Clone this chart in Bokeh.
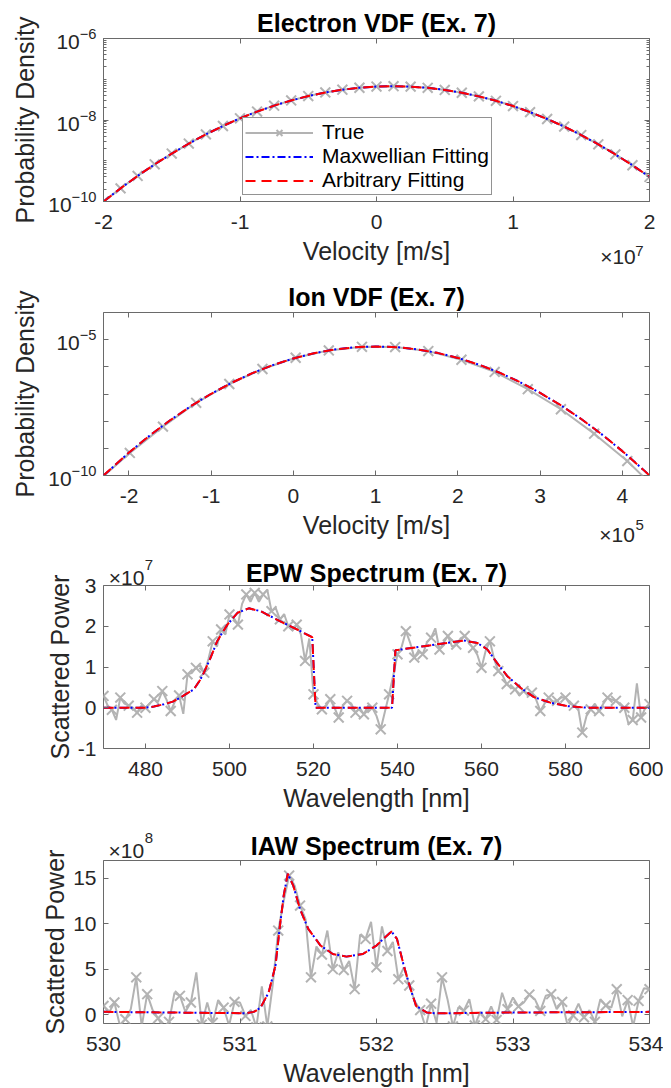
from bokeh.plotting import figure
from bokeh.models import (Range1d, LinearAxis, LogAxis, FixedTicker, Legend,
                          LegendItem, CustomJSTickFormatter)
from bokeh.layouts import column
from bokeh.embed import file_html
from bokeh.resources import INLINE

FONT = "Liberation Sans"
TXT = "#262626"
AX = "#6a6a6a"
GREY = "#b3b3b3"
BLUE = "#0000ff"
RED = "#ff0000"

# ---------------- data ----------------
# Electron VDF (velocity in units of 1e7 m/s)
e_v = [-2.0, -1.875, -1.75, -1.625, -1.5, -1.375, -1.25, -1.125, -1.0, -0.875, -0.75,
       -0.625, -0.5, -0.375, -0.25, -0.125, 0.0, 0.125, 0.25, 0.375, 0.5, 0.625, 0.75,
       0.875, 1.0, 1.125, 1.25, 1.375, 1.5, 1.625, 1.75, 1.875, 2.0]
e_true = [9.97e-11, 2.10e-10, 4.24e-10, 8.16e-10, 1.50e-9, 2.64e-9, 4.44e-9, 7.13e-9,
          1.10e-8, 1.61e-8, 2.25e-8, 3.02e-8, 3.87e-8, 4.74e-8, 5.54e-8, 6.19e-8,
          6.62e-8, 6.76e-8, 6.59e-8, 6.15e-8, 5.48e-8, 4.67e-8, 3.80e-8, 2.96e-8,
          2.20e-8, 1.56e-8, 1.06e-8, 6.89e-9, 4.27e-9, 2.53e-9, 1.43e-9, 7.76e-10, 4.01e-10]
e_maxw = [9.97e-11, 2.10e-10, 4.24e-10, 8.16e-10, 1.50e-9, 2.64e-9, 4.44e-9, 7.13e-9,
          1.10e-8, 1.61e-8, 2.25e-8, 3.02e-8, 3.87e-8, 4.74e-8, 5.54e-8, 6.19e-8,
          6.62e-8, 6.76e-8, 6.59e-8, 6.15e-8, 5.48e-8, 4.67e-8, 3.80e-8, 2.96e-8,
          2.20e-8, 1.56e-8, 1.06e-8, 6.89e-9, 4.27e-9, 2.53e-9, 1.43e-9, 7.76e-10, 4.01e-10]
e_arb = [9.97e-11, 2.10e-10, 4.24e-10, 8.16e-10, 1.50e-9, 2.64e-9, 4.44e-9, 7.13e-9,
         1.10e-8, 1.61e-8, 2.25e-8, 3.02e-8, 3.87e-8, 4.74e-8, 5.54e-8, 6.19e-8,
         6.62e-8, 6.76e-8, 6.59e-8, 6.15e-8, 5.48e-8, 4.67e-8, 3.80e-8, 2.96e-8,
         2.20e-8, 1.56e-8, 1.06e-8, 6.89e-9, 4.27e-9, 2.53e-9, 1.43e-9, 7.76e-10, 4.01e-10]

# Ion VDF (velocity in units of 1e5 m/s)
i_v_true = [-2.393, -1.99, -1.587, -1.183, -0.78, -0.377, 0.027, 0.43, 0.833, 1.237,
            1.64, 2.043, 2.447, 2.85, 3.253, 3.657, 4.06, 4.463]
i_true = [5.7e-11, 6.8e-10, 6.3e-9, 4.75e-8, 2.34e-7, 8.3e-7, 2.16e-6, 4.03e-6, 5.45e-6,
          5.35e-6, 3.79e-6, 1.82e-6, 6.5e-7, 1.51e-7, 2.75e-8, 3.47e-9, 3.4e-10, 2.2e-11]
i_v_fit = [-2.31, -2.0, -1.75, -1.5, -1.25, -1.0, -0.75, -0.5, -0.25, 0.0, 0.25, 0.5,
           0.75, 1.0, 1.25, 1.5, 1.75, 2.0, 2.25, 2.5, 2.75, 3.0, 3.25, 3.5, 3.75, 4.0,
           4.25, 4.33]
i_maxw = [1.0e-10, 7.0e-10, 2.93e-9, 1.08e-8, 3.54e-8, 1.02e-7, 2.60e-7, 5.85e-7,
          1.16e-6, 2.04e-6, 3.17e-6, 4.35e-6, 5.26e-6, 5.62e-6, 5.31e-6, 4.43e-6,
          3.27e-6, 2.13e-6, 1.22e-6, 6.21e-7, 2.79e-7, 1.10e-7, 3.86e-8, 1.20e-8,
          3.27e-9, 7.89e-10, 1.68e-10, 1.0e-10]
i_arb = [1.0e-10, 7.0e-10, 2.93e-9, 1.08e-8, 3.54e-8, 1.02e-7, 2.60e-7, 5.85e-7,
         1.16e-6, 2.04e-6, 3.17e-6, 4.35e-6, 5.26e-6, 5.62e-6, 5.31e-6, 4.43e-6,
         3.27e-6, 2.13e-6, 1.22e-6, 6.21e-7, 2.79e-7, 1.10e-7, 3.86e-8, 1.20e-8,
         3.27e-9, 7.89e-10, 1.68e-10, 1.0e-10]

# EPW spectrum (power in units of 1e7)
epw_wl = list(range(470, 601))
epw_true = [0.29, 0.05, -0.05, -0.3, 0.25, 0.1, 0.05, 0.0, -0.12, 0.05,
            0.0, 0.1, 0.21, 0.15, 0.41, 0.2, -0.08, 0.15, 0.3, -0.15,
            0.82, 0.85, 0.98, 1.05, 0.86, 1.2, 1.63, 1.5, 1.92, 1.8,
            2.29, 2.2, 2.04, 2.55, 2.78, 2.6, 2.82, 2.6, 2.78, 2.9,
            2.37, 2.45, 2.17, 2.3, 2.0, 1.9, 2.04, 1.8, 1.15, 1.7,
            0.33, 0.1, -0.04, 0.05, 0.21, 0.0, -0.24, 0.05, 0.17, 0.1,
            -0.12, 0.0, -0.16, 0.05, 0.0, -0.2, -0.53, -0.1, 0.33, 0.8,
            1.31, 1.5, 1.88, 1.6, 1.23, 1.4, 1.31, 1.6, 1.72, 1.95,
            1.43, 1.6, 1.76, 1.5, 1.55, 1.7, 1.76, 1.6, 1.47, 1.3,
            0.98, 1.4, 1.63, 1.2, 0.9, 0.8, 0.58, 0.5, 0.45, 0.3,
            0.41, 0.35, 0.37, 0.2, -0.08, 0.1, 0.25, 0.15, 0.17, 0.25,
            0.25, 0.1, 0.05, 0.0, -0.61, -0.2, -0.04, 0.1, -0.08, 0.1,
            0.25, 0.2, 0.17, 0.1, 0.0, -0.4, -0.3, 0.6, -0.24, 0.0,
            0.09]
epw_fit_wl = [470, 480, 482, 484.4, 486.5, 488.3, 490, 491.5, 493, 493.9,
              495.5, 497.1, 499.5, 501.9, 504.6, 507.4, 512.1, 516.1, 519.7, 520.5,
              538.7, 539.5, 546.3, 551.8, 555.8, 559.0, 561.4, 563.7, 566.1, 569.3,
              572.5, 576.4, 580.4, 585.2, 600]
epw_maxw = [0, 0, 0.03, 0.086, 0.15, 0.25, 0.36, 0.45, 0.68, 0.86,
            1.23, 1.64, 2.04, 2.33, 2.44, 2.37, 2.12, 1.92, 1.73, 0,
            0, 1.41, 1.51, 1.59, 1.65, 1.59, 1.43, 1.10, 0.78, 0.49,
            0.26, 0.125, 0.04, 0, 0]
epw_arb = [0, 0, 0.03, 0.086, 0.15, 0.25, 0.36, 0.45, 0.68, 0.86,
           1.23, 1.64, 2.04, 2.33, 2.44, 2.37, 2.12, 1.92, 1.73, 0,
           0, 1.41, 1.51, 1.59, 1.65, 1.59, 1.43, 1.10, 0.78, 0.49,
           0.26, 0.125, 0.04, 0, 0]

# IAW spectrum (power in units of 1e8)
iaw_wl = [round(530 + 0.04 * i, 2) for i in range(101)]
iaw_true = [0.96, 0.2, 1.33, -1.2, -0.5, 0.6, 4.1, -1.3, 2.25, 0.5,
            -0.4, -1.5, -0.8, 2.4, 2.07, 0.3, 1.33, 4.65, -1.1, 1.33,
            -0.9, 1.6, 0.77, -1.2, 1.4, 1.33, -0.15, 0.5, -1.4, 3.1,
            -1.3, 3.3, 9.25, 12.5, 15.3, 14.2, 12.0, 10.5, 4.1, 7.5,
            6.6, 9.25, 5.0, 6.86, 4.9, 5.9, 2.8, 8.8, 8.33, 10.2,
            5.2, 9.7, 7.0, 8.0, 3.9, 5.2, 3.2, 1.5, 0.5, -1.4,
            1.2, -0.9, 4.1, 1.7, -1.3, 0.8, 0.44, 1.7, -1.2, 0.3,
            -0.5, 0.9, -0.6, 2.4, 0.6, 1.88, 0.9, 1.33, 2.2, 1.7,
            0.4, 2.07, 2.25, 0.6, 1.4, -1.2, -0.1, 1.2, -0.3, 0.5,
            -0.8, 1.7, 1.0, 0.77, 2.8, -0.2, 1.6, -1.3, 1.5, 2.9,
            2.8]
iaw_fit_wl = [530.0, 530.56, 531.05, 531.1, 531.12, 531.15, 531.21, 531.26, 531.29,
              531.32, 531.35, 531.39, 531.44, 531.50, 531.59, 531.68, 531.78, 531.90,
              532.00, 532.05, 532.11, 532.15, 532.20, 532.25, 532.29, 532.37, 532.44,
              532.93, 534.0]
iaw_maxw = [0.3, 0.22, 0.15, 0.3, 0.45, 0.77, 2.43, 5.39, 9.44, 13.1, 15.5, 14.2, 11.6,
            9.44, 7.6, 6.67, 6.38, 6.67, 7.6, 8.33, 9.15, 8.33, 5.39, 2.8, 0.96, 0.22,
            0.14, 0.22, 0.3]
iaw_arb = [0.3, 0.22, 0.15, 0.3, 0.45, 0.77, 2.43, 5.39, 9.44, 13.1, 15.5, 14.2, 11.6,
           9.44, 7.6, 6.67, 6.38, 6.67, 7.6, 8.33, 9.15, 8.33, 5.39, 2.8, 0.96, 0.22,
           0.14, 0.22, 0.3]

titles = ["Electron VDF (Ex. 7)", "Ion VDF (Ex. 7)", "EPW Spectrum (Ex. 7)", "IAW Spectrum (Ex. 7)"]
legend_labels = ["True", "Maxwellian Fitting", "Arbitrary Fitting"]
mult_base = "×10"
mult_exps = ["7", "5", "7", "8"]

# ---------------- styling helpers ----------------
FW, FH = 546, 163
TICK_FS = "21px"
EXP_FS = "15px"

PLAIN = CustomJSTickFormatter(code="return String(tick);")


def text_fmt(val, txt):
    return CustomJSTickFormatter(args=dict(v=val, t=txt),
                                 code="return Math.abs(tick - v) < 1e-9 ? t : '';")


def style_axis(ax, ticks, minor=None, labels=True, minor_len=3):
    ax.ticker = FixedTicker(ticks=ticks, minor_ticks=minor or [])
    ax.axis_line_color = None
    ax.major_tick_line_color = AX
    ax.minor_tick_line_color = AX
    ax.major_tick_in = 5
    ax.major_tick_out = 0
    ax.minor_tick_in = minor_len
    ax.minor_tick_out = 0
    ax.major_label_text_font = FONT
    ax.major_label_text_font_size = TICK_FS
    ax.major_label_text_color = TXT
    ax.axis_label_text_font = FONT
    ax.axis_label_text_font_size = "25px"
    ax.axis_label_text_font_style = "normal"
    ax.axis_label_text_color = TXT
    if not labels:
        ax.formatter = CustomJSTickFormatter(code="return '';")
        ax.major_label_text_font_size = "0px"
        ax.major_label_standoff = 0


def make_fig(xr, yr, log, top_b, bot_b, xticks, yticks, yminor=None, xlabel="",
             ylabel="", minor_len=3):
    p = figure(frame_width=FW, frame_height=FH, x_range=Range1d(*xr), y_range=Range1d(*yr),
               y_axis_type="log" if log else "linear", output_backend="svg",
               toolbar_location=None, min_border_left=103, min_border_right=14,
               min_border_top=top_b, min_border_bottom=bot_b)
    p.grid.visible = False
    p.outline_line_color = AX
    p.outline_line_width = 1
    p.outline_line_alpha = 1
    p.background_fill_color = "white"
    p.border_fill_color = "white"
    style_axis(p.xaxis[0], xticks)
    p.xaxis[0].formatter = PLAIN
    p.xaxis[0].major_label_standoff = 13
    p.xaxis[0].axis_label = xlabel
    style_axis(p.yaxis[0], yticks, yminor, minor_len=minor_len)
    if not log:
        p.yaxis[0].formatter = PLAIN
    p.yaxis[0].axis_label = ylabel
    p.yaxis[0].major_label_standoff = 7
    right = LogAxis() if log else LinearAxis()
    style_axis(right, yticks, yminor, labels=False, minor_len=minor_len)
    p.add_layout(right, "right")
    top = LinearAxis()
    style_axis(top, xticks, labels=False)
    p.add_layout(top, "above")
    return p, top


def label_axis(p, side, x, text, fs, standoff):
    ax = LinearAxis()
    style_axis(ax, [x], labels=False)
    ax.major_tick_in = 0
    ax.formatter = text_fmt(x, text)
    ax.major_label_text_font_size = fs
    ax.major_label_standoff = standoff
    p.add_layout(ax, side)
    return ax


def set_title(ax, title, standoff):
    ax.axis_label = title
    ax.axis_label_text_font_style = "bold"
    ax.axis_label_text_font_size = "25px"
    ax.axis_label_text_color = "#000000"
    ax.axis_label_standoff = standoff


def draw(p, x, y, mx, my, fx, fmax, farb):
    r1 = p.line(x, y, line_color=GREY, line_width=2)
    r2 = p.scatter(mx, my, marker="x", size=14, line_color=GREY, line_width=2)
    r3 = p.line(fx, fmax, line_color=BLUE, line_width=2, line_dash="8 3 2 3")
    r4 = p.line(fx, farb, line_color=RED, line_width=2, line_dash="10 6")
    return r1, r2, r3, r4


# ---------------- panel 1: electron VDF ----------------
minor_e = [k * 10.0 ** n for n in range(-10, -6) for k in range(1, 10)] + [1e-6]
p1, t1 = make_fig((-2, 2), (1e-10, 1e-6), True, 38, 78, [-2, -1, 0, 1, 2],
                  [1e-10, 1e-8, 1e-6], yminor=minor_e, xlabel="Velocity [m/s]",
                  ylabel="Probability Density")
p1.xaxis[0].major_label_standoff = 15
p1.xaxis[0].axis_label_standoff = 9
p1.yaxis[0].axis_label_standoff = 6
set_title(t1, titles[0], 2)
label_axis(p1, "below", 1.769, mult_base, TICK_FS, -23)
label_axis(p1, "below", 1.927, mult_exps[0], EXP_FS, -25)
r = draw(p1, e_v, e_true, e_v, e_true, e_v, e_maxw, e_arb)
legend = Legend(items=[LegendItem(label=legend_labels[0], renderers=[r[0], r[1]]),
                       LegendItem(label=legend_labels[1], renderers=[r[2]]),
                       LegendItem(label=legend_labels[2], renderers=[r[3]])],
                location=(139, 6), label_text_font=FONT, label_text_font_size="21px",
                label_text_color="#000000", border_line_color="#262626", border_line_width=1,
                background_fill_color="white", background_fill_alpha=1.0, glyph_width=68,
                glyph_height=21, label_height=21, label_standoff=9, padding=2, spacing=0,
                margin=0)
p1.add_layout(legend)

# ---------------- panel 2: ion VDF ----------------
p2, t2 = make_fig((-2.31, 4.33), (1e-10, 1e-4), True, 32, 80, [-2, -1, 0, 1, 2, 3, 4],
                  [1e-10, 1e-5], yminor=[1e-9, 1e-8, 1e-7, 1e-6, 1e-4],
                  xlabel="Velocity [m/s]", ylabel="Probability Density", minor_len=5)
p2.xaxis[0].major_label_standoff = 14
p2.xaxis[0].axis_label_standoff = 10
p2.yaxis[0].axis_label_standoff = 6
set_title(t2, titles[1], 2)
label_axis(p2, "below", 3.935, mult_base, TICK_FS, -19)
label_axis(p2, "below", 4.209, mult_exps[1], EXP_FS, -29)
draw(p2, i_v_true, i_true, i_v_true[1:-1], i_true[1:-1], i_v_fit, i_maxw, i_arb)

# ---------------- panel 3: EPW ----------------
p3, t3 = make_fig((470, 600), (-1, 3), False, 30, 79, [480, 500, 520, 540, 560, 580, 600],
                  [-1, 0, 1, 2, 3], xlabel="Wavelength [nm]", ylabel="Scattered Power")
p3.xaxis[0].axis_label_standoff = 12
p3.yaxis[0].axis_label_standoff = 1
label_axis(p3, "above", 480.84, mult_exps[2], EXP_FS, 16)
m3 = label_axis(p3, "above", 475.48, mult_base, TICK_FS, -32)
set_title(m3, titles[2], -24)
draw(p3, epw_wl, epw_true, epw_wl[::2], epw_true[::2], epw_fit_wl, epw_maxw, epw_arb)

# ---------------- panel 4: IAW ----------------
p4, t4 = make_fig((530, 534), (-0.98, 16.96), False, 33, 58, [530, 531, 532, 533, 534],
                  [0, 5, 10, 15], xlabel="Wavelength [nm]", ylabel="Scattered Power")
p4.xaxis[0].major_label_standoff = 12
p4.xaxis[0].axis_label_standoff = -4
p4.yaxis[0].axis_label_standoff = 1
label_axis(p4, "above", 530.333, mult_exps[3], EXP_FS, 18)
m4 = label_axis(p4, "above", 530.168, mult_base, TICK_FS, -32)
set_title(m4, titles[3], -24)
draw(p4, iaw_wl, iaw_true, iaw_wl[::2], iaw_true[::2], iaw_fit_wl, iaw_maxw, iaw_arb)

layout = column(p1, p2, p3, p4, spacing=0)
open("out.html", "w", encoding="utf-8").write(file_html(layout, INLINE, "VDF and spectra"))
